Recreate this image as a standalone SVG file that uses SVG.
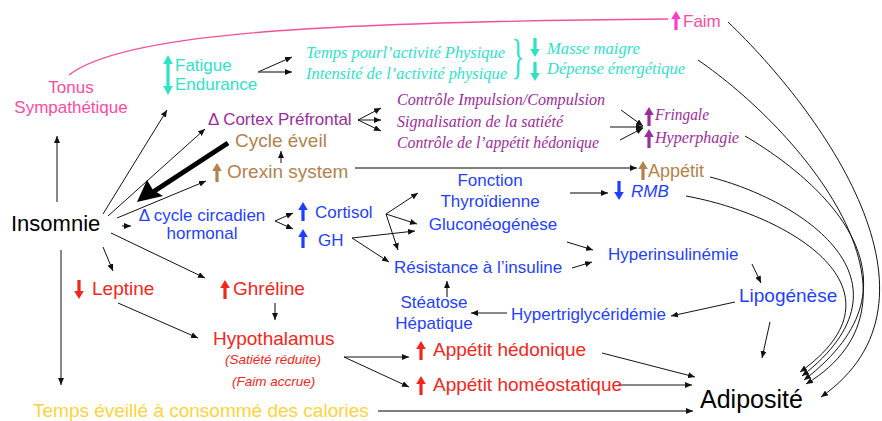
<svg xmlns="http://www.w3.org/2000/svg" xmlns:xlink="http://www.w3.org/1999/xlink" width="882" height="421" viewBox="0 0 882 421">
<style>
text{font-family:"Liberation Sans",Arial,sans-serif;font-size:17px}
.i{font-family:"Liberation Serif","Times New Roman",serif;font-style:italic;font-size:16px}
.si{font-style:italic}
.pink{fill:#ff4aa2}
.mag{fill:#ff3ccf}
.cyan{fill:#2ee2c8}
.purple{fill:#9c2d9c}
.brown{fill:#b3824b}
.blue{fill:#1f3fff}
.red{fill:#f4261b}
.yellow{fill:#ffd23c}
.black{fill:#000}
.c path,.c line{fill:none;stroke:#111;stroke-width:1;marker-end:url(#ah)}
.c .g{stroke:#555;stroke-width:1.5}
</style>
<defs>
<marker id="ah" markerUnits="userSpaceOnUse" markerWidth="8" markerHeight="6" refX="7" refY="3" orient="auto">
<path d="M0,0 L7,3 L0,6 Z" fill="#111"/>
</marker>
<path id="up" d="M-1.6,0 V-11 H-4.8 L0,-19 L4.8,-11 H1.6 V0 Z"/>
</defs>

<g id="connectors" class="c">
<path d="M69,75 C120,35 300,22 668,19" style="stroke:#f0509c;stroke-width:1.3;marker-end:none"/>
<path d="M57,202 V136"/>
<path d="M103,214 L167,110"/>
<path d="M108,216 L205,129"/>
<path d="M117,218 L206,181"/>
<path d="M122,226 L131,226"/>
<path d="M103,247 L113,271"/>
<path d="M111,233 L205,278"/>
<path d="M61,250 V385"/>
<path d="M281,163 V151"/>
<path class="g" d="M355,168 H637"/>
<path d="M258,72 L292,57"/>
<path class="g" d="M258,72 H292"/>
<path d="M358,120 L381,108"/>
<path d="M358,120 H381"/>
<path d="M358,120 L381,131"/>
<path d="M621,110 L643,126"/>
<path d="M610,127 H643"/>
<path d="M620,140 L643,128"/>
<path d="M275,221 L293,213"/>
<path d="M275,221 L293,229"/>
<path d="M386,214 L418,193"/>
<path d="M386,214 L417,224"/>
<path d="M386,214 L398,250"/>
<path d="M352,238 L415,231"/>
<path d="M352,238 L389,262"/>
<path class="g" d="M570,193 H608"/>
<path d="M567,242 L593,250"/>
<path d="M572,268 L592,262"/>
<path d="M752,264 L761,283"/>
<path d="M735,302 L671,316"/>
<path d="M770,322 L762,358"/>
<path d="M507,313 H471"/>
<path class="g" d="M447,297 V281"/>
<path class="g" d="M275,303 V320"/>
<path d="M118,303 L198,338"/>
<path d="M344,357 H409"/>
<path d="M344,357 L409,387"/>
<path d="M602,353 L695,377"/>
<path d="M618,385 H692"/>
<path class="g" d="M378,411 H693"/>
<path d="M728,22 C820,110 960,300 821,397"/>
<path d="M698,60 C800,130 945,300 806,384"/>
<path d="M745,136 C820,180 935,280 804,380"/>
<path d="M710,177 C800,200 925,280 802,376"/>
<path d="M686,196 C790,215 915,290 800,372"/>
<path d="M228,143 L153,192" style="stroke:#000;stroke-width:5;marker-end:none"/>
<polygon points="137,202 147,180 153,190 163,196" style="fill:#000;stroke:none"/>
</g>

<g id="tonus"><text class="pink" x="71" y="93" text-anchor="middle">Tonus</text><text class="pink" x="71" y="113" text-anchor="middle">Sympathétique</text></g>
<g id="faim"><use href="#up" class="mag" transform="translate(676,30)"/><text class="pink" x="683" y="27">Faim</text></g>
<g id="fatigue"><path class="cyan" d="M166.4,64 H163.2 L168,55 L172.8,64 H169.6 V86 H172.8 L168,95 L163.2,86 H166.4 Z"/><text class="cyan" x="175" y="71">Fatigue</text><text class="cyan" x="175" y="90">Endurance</text></g>
<g id="activite"><text class="i cyan" x="306" y="58" textLength="199" lengthAdjust="spacingAndGlyphs">Temps pourl’activité Physique</text><text class="i cyan" x="306" y="79" textLength="201" lengthAdjust="spacingAndGlyphs">Intensité de l’activité physique</text><text class="cyan" transform="translate(518,73) scale(0.55,1)" text-anchor="middle" style="font-family:'Liberation Serif',serif;font-size:49px">}</text></g>
<g id="masse"><use href="#up" class="cyan" transform="translate(535,38) scale(1,-1)"/><use href="#up" class="cyan" transform="translate(535,62) scale(1,-1)"/><text class="i cyan" x="547" y="54" textLength="93" lengthAdjust="spacingAndGlyphs">Masse maigre</text><text class="i cyan" x="547" y="74" textLength="138" lengthAdjust="spacingAndGlyphs">Dépense énergétique</text></g>
<g id="cortex"><text class="purple" x="208" y="125">Δ Cortex Préfrontal</text></g>
<g id="controles"><text class="i purple" x="397" y="105" textLength="208" lengthAdjust="spacingAndGlyphs">Contrôle Impulsion/Compulsion</text><text class="i purple" x="397" y="127" textLength="166" lengthAdjust="spacingAndGlyphs">Signalisation de la satiété</text><text class="i purple" x="397" y="148" textLength="202" lengthAdjust="spacingAndGlyphs">Contrôle de l’appétit hédonique</text></g>
<g id="fringale"><use href="#up" class="purple" transform="translate(649,126)"/><use href="#up" class="purple" transform="translate(649,148)"/><text class="i purple" x="655" y="120" textLength="54" lengthAdjust="spacingAndGlyphs">Fringale</text><text class="i purple" x="655" y="143" textLength="84" lengthAdjust="spacingAndGlyphs">Hyperphagie</text></g>
<g id="cycle-eveil"><text class="brown" x="235" y="147" style="font-size:19px">Cycle éveil</text></g>
<g id="orexin"><use href="#up" class="brown" transform="translate(217,182)"/><text class="brown" x="227" y="178" style="font-size:19px">Orexin system</text></g>
<g id="appetit"><use href="#up" class="brown" transform="translate(643,180)"/><text class="brown" x="648" y="177" style="font-size:18px">Appétit</text></g>
<g id="rmb"><use href="#up" class="blue" transform="translate(619,181) scale(1,-1)"/><text class="blue si" x="631" y="197">RMB</text></g>
<g id="insomnie"><text class="black" x="11" y="231" style="font-size:22px">Insomnie</text></g>
<g id="circadien"><text class="blue" x="202" y="221" text-anchor="middle">Δ cycle circadien</text><text class="blue" x="202" y="239" text-anchor="middle">hormonal</text></g>
<g id="cortisol"><use href="#up" class="blue" transform="translate(303,221)"/><text class="blue" x="315" y="218">Cortisol</text></g>
<g id="gh"><use href="#up" class="blue" transform="translate(303,248)"/><text class="blue" x="318" y="246">GH</text></g>
<g id="fonction"><text class="blue" x="490" y="186" text-anchor="middle">Fonction</text><text class="blue" x="490" y="207" text-anchor="middle">Thyroïdienne</text></g>
<g id="gluco"><text class="blue" x="493" y="230" text-anchor="middle">Gluconéogénèse</text></g>
<g id="resistance"><text class="blue" x="394" y="273">Résistance à l’insuline</text></g>
<g id="hyperinsulinemie"><text class="blue" x="608" y="260">Hyperinsulinémie</text></g>
<g id="lipogenese"><text class="blue" x="739" y="302" style="font-size:19px">Lipogénèse</text></g>
<g id="hypertri"><text class="blue" x="511" y="320">Hypertriglycéridémie</text></g>
<g id="steatose"><text class="blue" x="434" y="308" text-anchor="middle">Stéatose</text><text class="blue" x="434" y="329" text-anchor="middle">Hépatique</text></g>
<g id="leptine"><use href="#up" class="red" transform="translate(79,280) scale(1,-1)"/><text class="red" x="92" y="295" style="font-size:19px">Leptine</text></g>
<g id="ghreline"><use href="#up" class="red" transform="translate(225,299)"/><text class="red" x="233" y="295" style="font-size:19px">Ghréline</text></g>
<g id="hypothalamus"><text class="red" x="213" y="345" style="font-size:19px">Hypothalamus</text><text class="red si" x="225" y="364" style="font-size:13.5px">(Satiété réduite)</text><text class="red si" x="232" y="386" style="font-size:13.5px">(Faim accrue)</text></g>
<g id="app-hedonique"><use href="#up" class="red" transform="translate(421,360)"/><text class="red" x="433" y="356" style="font-size:19px">Appétit hédonique</text></g>
<g id="app-homeo"><use href="#up" class="red" transform="translate(421,395)"/><text class="red" x="433" y="391" style="font-size:19px">Appétit homéostatique</text></g>
<g id="adiposite"><text class="black" x="700" y="408" style="font-size:25px">Adiposité</text></g>
<g id="temps-eveille"><text class="yellow" x="33" y="417" style="font-size:19px">Temps éveillé à consommé des calories</text></g>
</svg>
